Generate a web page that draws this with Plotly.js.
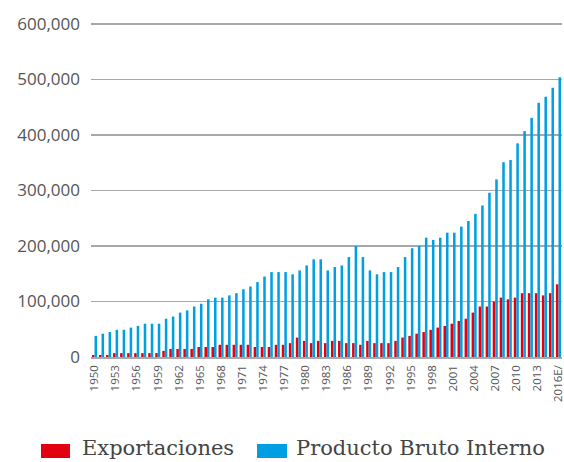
<!DOCTYPE html>
<html>
<head>
<meta charset="utf-8">
<script src="https://cdn.plot.ly/plotly-3.0.1.min.js"></script>
<style>html,body{margin:0;padding:0;background:#fff;}#chart{width:564px;height:462px;}</style>
</head>
<body>
<div id="chart"></div>
<script>
const years = [];
for (let y = 1950; y <= 2016; y++) years.push(y === 2016 ? "2016E/" : String(y));

const exportaciones = [
  3.6,3.6,3.6,7,7,7,7,7,7,7,11,14.5,14.5,14.5,14.5,18,18,18,22,22,22,22,
  22,18,18,18,22,22,25,35,29,25,29,25,29,29,25,25,22,29,25,25,
  25,29,35,38,42,45,49,53,56,60,65,69,80,91,91,100,107,104,107,115,115,115,111,115,131
].map(v => v * 1000);

const pbi = [
  38,42,45,49,49,53,56,60,60,60,69,73,80,84,91,96,104,107,107,111,115,122,
  127,135,145,153,153,153,149,156,165,176,176,156,162,165,180,200,180,156,149,153,
  153,162,180,196,200,215,211,215,224,224,235,245,258,273,296,320,351,355,385,407,431,458,469,485,504
].map(v => v * 1000);

const tickLabels = years.filter((_, i) => i % 3 === 0);
const yTicks = [0,100000,200000,300000,400000,500000,600000];

const data = [
  {type:'bar', name:'Exportaciones', x:years, y:exportaciones, marker:{color:'#e3000f'}, showlegend:false, hoverinfo:'x+y'},
  {type:'bar', name:'Producto Bruto Interno', x:years, y:pbi, marker:{color:'#009fe3'}, showlegend:false, hoverinfo:'x+y'}
];

// plot area: x 91..562, y 21..357 (600,000 at y=24)
const TOP = 21, BOT = 357, LEFT = 91, W = 471;
const px = v => (v - LEFT) / W;
const py = v => (BOT - v) / (BOT - TOP);

const layout = {
  width:564, height:462,
  margin:{l:LEFT, r:564-LEFT-W, t:TOP, b:462-BOT},
  paper_bgcolor:'#fff', plot_bgcolor:'#fff',
  barmode:'group', bargap:0.28, bargroupgap:0,
  xaxis:{
    type:'category', tickmode:'array', tickvals:tickLabels, ticktext:tickLabels,
    tickangle:-90, tickfont:{family:'Open Sans, sans-serif', size:11.5, color:'#555'},
    showgrid:false, showline:true, linecolor:'#a8a8a8', linewidth:1.5, ticks:'', ticklabelstandoff:2,
    fixedrange:true
  },
  yaxis:{
    range:[0, 600000 * (BOT - TOP) / 333], tickvals:yTicks, ticktext:yTicks.map(v=>v.toLocaleString('en-US')),
    tickfont:{family:'Open Sans, sans-serif', size:17, color:'#555'},
    showgrid:true, gridcolor:'#a8a8a8', gridwidth:1.5, zeroline:false, showline:false,
    ticks:'', ticklabelstandoff:10, fixedrange:true
  },
  shapes:[
    {type:'rect', xref:'paper', yref:'paper', x0:px(41), x1:px(70), y0:py(458), y1:py(444), fillcolor:'#e3000f', line:{width:0}},
    {type:'rect', xref:'paper', yref:'paper', x0:px(257), x1:px(287), y0:py(458), y1:py(444), fillcolor:'#009fe3', line:{width:0}}
  ],
  annotations:[
    {xref:'paper', yref:'paper', x:px(81), y:py(461), xanchor:'left', yanchor:'bottom', showarrow:false, borderpad:0,
     text:'Exportaciones', font:{family:'DejaVu Serif, serif', size:21, color:'#444'}},
    {xref:'paper', yref:'paper', x:px(295), y:py(461), xanchor:'left', yanchor:'bottom', showarrow:false, borderpad:0,
     text:'Producto Bruto Interno', font:{family:'DejaVu Serif, serif', size:21, color:'#444'}}
  ]
};

Plotly.newPlot('chart', data, layout, {displayModeBar:false, staticPlot:true});
</script>
</body>
</html>
